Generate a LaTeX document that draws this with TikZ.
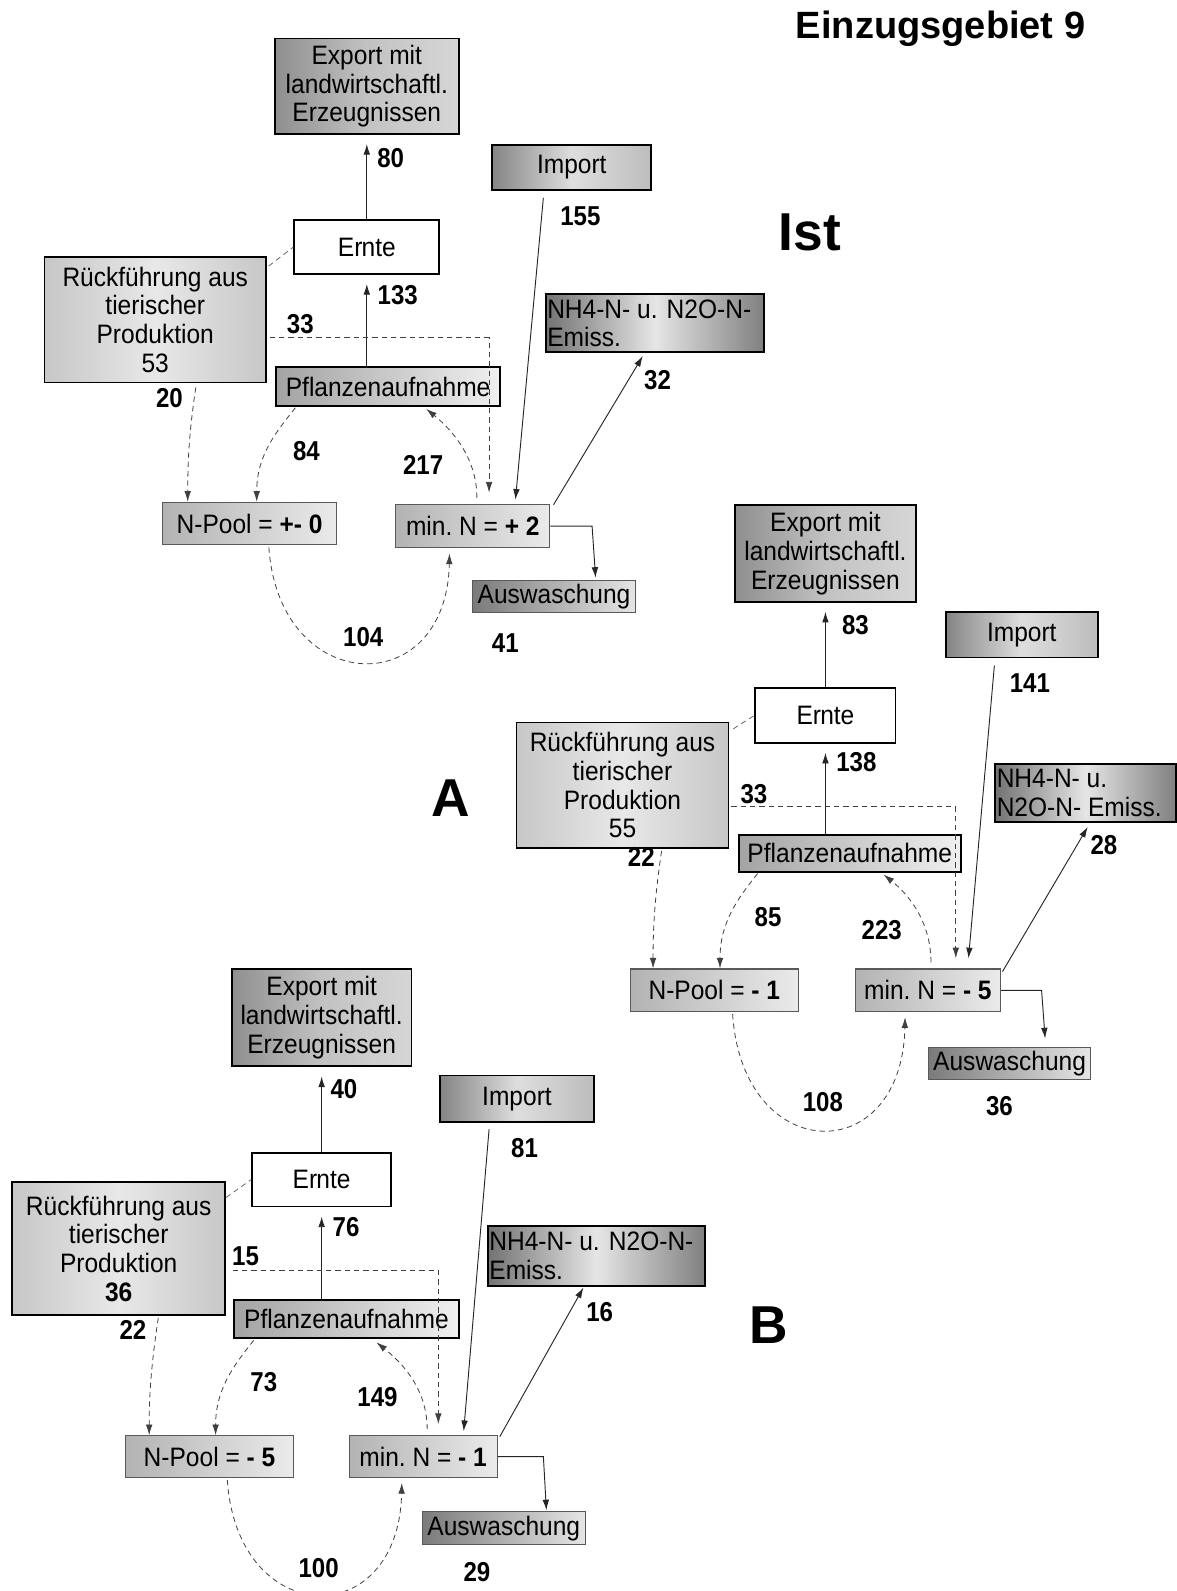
\documentclass[tikz,border=0pt]{standalone}
\usepackage{fontspec}
\setmainfont{Liberation Sans}
\newfontfamily\condfont{Liberation Sans}[FakeStretch=0.92]
\newfontfamily\lblfont{Liberation Sans Bold}[FakeStretch=0.88]
\usetikzlibrary{arrows.meta,calc}
\newcommand\bxf{\condfont\fontsize{20}{21.5}\selectfont}
\newcommand\lbf{\lblfont\fontsize{20.5}{22}\selectfont}
\begin{document}
\begin{tikzpicture}[x=0.761pt,y=-0.761pt,
  bx/.style 2 args={minimum width=#1*0.761pt, minimum height=#2*0.761pt},
  basebox/.style={inner sep=0pt, align=center, font=\bxf},
  exportbox/.style={basebox, draw=black, line width=1.4pt, left color=black!44, right color=black!16, middle color=black!24},
  importbox/.style={basebox, draw=black, line width=1.4pt, left color=black!48, right color=black!26, middle color=black!13},
  nhbox/.style={basebox, draw=black, line width=1.4pt, left color=black!55, right color=black!50, middle color=black!10},
  rueckbox/.style={basebox, draw=black, line width=1.2pt, left color=black!22, right color=black!22, middle color=black!9},
  pflbox/.style={basebox, draw=black, line width=1.4pt, left color=black!36, right color=black!6},
  poolbox/.style={basebox, draw=black!65, line width=0.8pt, left color=black!30, right color=black!8},
  auswbox/.style={basebox, draw=black!65, line width=0.8pt, left color=black!52, right color=black!10},
  erntebox/.style={basebox, draw=black, line width=1.4pt, fill=white},
  nhtext/.style={anchor=west, align=left, inner sep=0pt, font=\bxf},
  lab/.style={inner sep=0pt, font=\lbf},
  arr/.style={draw=black!85, line width=0.7pt, -{Latex[length=8pt,width=5pt]}},
  darr/.style={draw=black!75, line width=0.6pt, dash pattern=on 4pt off 3pt, -{Latex[length=8pt,width=5pt]}},
  dln/.style={draw=black!60, line width=0.6pt, dash pattern=on 4pt off 3pt}]
\useasboundingbox (0,0) rectangle (1159,1568);

% ---------------- titles ----------------
\node[inner sep=0pt, font=\fontsize{28.5}{30}\selectfont\bfseries] (title) at (927,28) {Einzugsgebiet 9};
\node[inner sep=0pt, font=\fontsize{40}{42}\selectfont\bfseries] (ist) at (798,229) {Ist};
\node[inner sep=0pt, font=\fontsize{40}{42}\selectfont\bfseries] (la) at (444,787) {A};
\node[inner sep=0pt, font=\fontsize{40}{42}\selectfont\bfseries] (lb) at (758,1306) {B};

% ================= block Ist =================
\node[exportbox, bx={181}{94}] (exp1) at (361.5,85) {Export mit\\landwirtschaftl.\\Erzeugnissen};
\node[erntebox, bx={143}{53}] (emte1) at (361.5,243.5) {Er\kern-0.03em nte};
\node[rueckbox, bx={218}{124}] (rueck1) at (153,315) {Rückführung aus\\tierischer\\Produktion\\53};
\node[pflbox, bx={221}{38}] (pfl1) at (382.5,381) {Pflanzenaufnahme};
\node[importbox, bx={157}{44}] (imp1) at (563.5,165) {Import};
\node[nhbox, bx={215}{57}] (nh1) at (645.5,318.5) {};
\node[nhtext] (nh1t) at ($(nh1.west)+(2,0)$) {NH4-N- u. N2O-N-\\Emiss.};
\node[poolbox, bx={152}{43}] (minn1) at (466,518.5) {min.\ N = \textbf{+ 2}};
\node[poolbox, bx={172}{42}] (npool1) at (246,516) {N-Pool = \textbf{+- 0}};
\node[auswbox, bx={160}{32}] (ausw1) at (546,588) {Auswaschung};

\draw[arr] (emte1.north) -- ($(exp1.south)+(0,9)$);
\draw[arr] (pfl1.north -| emte1.south) -- ($(emte1.south)+(0,9)$);
\draw[dln] ($(rueck1.north east)+(2,10)$) -- (emte1.west);
\draw[darr] ($(rueck1.east)+(3,18)$) -| ($(minn1.north)+(16,-11)$);
\draw[arr] ($(imp1.south)+(-28,7)$) -- ($(minn1.north)+(42,-4)$);
\draw[arr] ($(minn1.north east)+(3,1)$) -- ($(nh1.south)+(-12,3)$);
\draw[arr] (minn1.east) -- ($(minn1.east)+(41,0)$) -- ($(ausw1.north)+(41,-2)$);
\draw[darr] ($(rueck1.south)+(40,4)$) .. controls ($(rueck1.south)+(34,44)$) and ($(npool1.north)+(-61,-45)$) .. ($(npool1.north)+(-61,0)$);
\draw[darr] ($(pfl1.south west)+(20,1)$) .. controls ($(pfl1.south west)+(0,26)$) and ($(npool1.north)+(7,-45)$) .. ($(npool1.north)+(7,0)$);
\draw[darr] ($(minn1.north)+(4,-6)$) .. controls ($(minn1.north)+(4,-46)$) and ($(pfl1.south)+(62,22)$) .. ($(pfl1.south)+(37.5,2)$);
\draw[darr] ($(npool1.south)+(19,2)$) .. controls ($(npool1.south)+(29,149)$) and ($(minn1.south)+(-26,152)$) .. ($(minn1.south)+(-23,5)$);

\node[lab] (l80) at (385,156) {80};
\node[lab] (l133) at (392,291) {133};
\node[lab] (l33a) at (296,319) {33};
\node[lab] (l155) at (572,213) {155};
\node[lab] (l32) at (648,375) {32};
\node[lab] (l20) at (167,392) {20};
\node[lab] (l84) at (302,445) {84};
\node[lab] (l217) at (417,458) {217};
\node[lab] (l104) at (358,628) {104};
\node[lab] (l41) at (498,634) {41};

% ================= block A =================
\node[exportbox, bx={178}{95}] (exp2) at (813.5,545.5) {Export mit\\landwirtschaftl.\\Erzeugnissen};
\node[erntebox, bx={138}{54}] (emte2) at (813.5,705) {Er\kern-0.03em nte};
\node[rueckbox, bx={209}{124}] (rueck2) at (613.5,774) {Rückführung aus\\tierischer\\Produktion\\55};
\node[pflbox, bx={219}{36}] (pfl2) at (837.5,841) {Pflanzenaufnahme};
\node[importbox, bx={150}{45}] (imp2) at (1007,625.5) {Import};
\node[nhbox, bx={178}{57}] (nh2) at (1070,781.5) {};
\node[nhtext] (nh2t) at ($(nh2.west)+(2,0)$) {NH4-N- u.\\N2O-N- Emiss.};
\node[poolbox, bx={143}{42}] (minn2) at (914.5,976) {min.\ N = \textbf{- 5}};
\node[poolbox, bx={166}{42}] (npool2) at (704,976) {N-Pool = \textbf{- 1}};
\node[auswbox, bx={160}{32}] (ausw2) at (995,1048) {Auswaschung};

\draw[arr] (emte2.north) -- ($(exp2.south)+(0,9)$);
\draw[arr] (pfl2.north -| emte2.south) -- ($(emte2.south)+(0,9)$);
\draw[dln] ($(rueck2.north east)+(4,7)$) -- (emte2.west);
\draw[darr] ($(rueck2.east)+(2,21)$) -| ($(minn2.north)+(27.5,-10)$);
\draw[arr] ($(imp2.south)+(-27,7)$) -- ($(minn2.north)+(40,-10)$);
\draw[arr] ($(minn2.north east)+(1.5,3)$) -- ($(nh2.south)+(2,4)$);
\draw[arr] (minn2.east) -- ($(minn2.east)+(40,0)$) -- ($(ausw2.north)+(35,-8)$);
\draw[darr] ($(rueck2.south)+(38.5,2)$) .. controls ($(rueck2.south)+(32.5,42)$) and ($(npool2.north)+(-60.4,-45)$) .. ($(npool2.north)+(-60.4,0)$);
\draw[darr] ($(pfl2.south west)+(19.6,1)$) .. controls ($(pfl2.south west)+(-0.4,26)$) and ($(npool2.north)+(5.6,-45)$) .. ($(npool2.north)+(5.6,0)$);
\draw[darr] ($(minn2.north)+(3,-6)$) .. controls ($(minn2.north)+(3,-46)$) and ($(pfl2.south)+(58.3,22)$) .. ($(pfl2.south)+(33.3,2)$);
\draw[darr] ($(npool2.south)+(18,2)$) .. controls ($(npool2.south)+(28,152)$) and ($(minn2.south)+(-25.5,155)$) .. ($(minn2.south)+(-22.5,5)$);

\node[lab] (l83) at (843,616) {83};
\node[lab] (l141) at (1015,673) {141};
\node[lab] (l138) at (844,751) {138};
\node[lab] (l33b) at (743,783) {33};
\node[lab] (l22a) at (632,845) {22};
\node[lab] (l28) at (1088,833) {28};
\node[lab] (l85) at (757,904) {85};
\node[lab] (l223) at (869,917) {223};
\node[lab] (l108) at (811,1086) {108};
\node[lab] (l36) at (985,1090) {36};

% ================= block B =================
\node[exportbox, bx={177}{96}] (exp3) at (317,1003) {Export mit\\landwirtschaftl.\\Erzeugnissen};
\node[importbox, bx={151}{46}] (imp3) at (509.5,1083) {Import};
\node[erntebox, bx={137}{53}] (emte3) at (317,1162.5) {Er\kern-0.03em nte};
\node[rueckbox, bx={210}{131}] (rueck3) at (117,1230.5) {Rückführung aus\\tierischer\\Produktion\\\textbf{36}};
\node[pflbox, bx={221}{38}] (pfl3) at (341.5,1300) {Pflanzenaufnahme};
\node[nhbox, bx={214}{59}] (nh3) at (588,1237.5) {};
\node[nhtext] (nh3t) at ($(nh3.west)+(2,0)$) {NH4-N- u. N2O-N-\\Emiss.};
\node[poolbox, bx={146}{41}] (minn3) at (417,1435.5) {min.\ N = \textbf{- 1}};
\node[poolbox, bx={165}{41}] (npool3) at (206.5,1435.5) {N-Pool = \textbf{- 5}};
\node[auswbox, bx={161}{32}] (ausw3) at (496.5,1506) {Auswaschung};

\draw[arr] (emte3.north) -- ($(exp3.south)+(0,9)$);
\draw[arr] (pfl3.north -| emte3.south) -- ($(emte3.south)+(0,9)$);
\draw[dln] ($(rueck3.north east)+(0,16)$) -- (emte3.west);
\draw[darr] ($(rueck3.east)+(6.6,21.5)$) -| ($(minn3.north)+(15,-11)$);
\draw[arr] ($(imp3.south)+(-27.5,6)$) -- ($(minn3.north)+(40,-4)$);
\draw[arr] ($(minn3.north east)+(2,1.5)$) -- ($(nh3.south)+(-13,1)$);
\draw[arr] (minn3.east) -- ($(minn3.east)+(45,0)$) -- ($(ausw3.north)+(42,-1)$);
\draw[darr] ($(rueck3.south)+(39,2)$) .. controls ($(rueck3.south)+(33,42)$) and ($(npool3.north)+(-59.5,-45)$) .. ($(npool3.north)+(-59.5,0)$);
\draw[darr] ($(pfl3.south west)+(20,1)$) .. controls ($(pfl3.south west)+(0,26)$) and ($(npool3.north)+(6,-45)$) .. ($(npool3.north)+(6,0)$);
\draw[darr] ($(minn3.north)+(4,-6)$) .. controls ($(minn3.north)+(4,-46)$) and ($(pfl3.south)+(54.5,23)$) .. ($(pfl3.south)+(29.5,3)$);
\draw[darr] ($(npool3.south)+(17.5,2)$) .. controls ($(npool3.south)+(27.5,150)$) and ($(minn3.south)+(-24,153)$) .. ($(minn3.south)+(-21,5)$);

\node[lab] (l40) at (339,1073) {40};
\node[lab] (l81) at (517,1131) {81};
\node[lab] (l76) at (341,1209) {76};
\node[lab] (l15) at (242,1238) {15};
\node[lab] (l22b) at (131,1311) {22};
\node[lab] (l16) at (591,1293) {16};
\node[lab] (l73) at (260,1362) {73};
\node[lab] (l149) at (372,1377) {149};
\node[lab] (l100) at (314,1545) {100};
\node[lab] (l29) at (470,1549) {29};
\end{tikzpicture}
\end{document}
